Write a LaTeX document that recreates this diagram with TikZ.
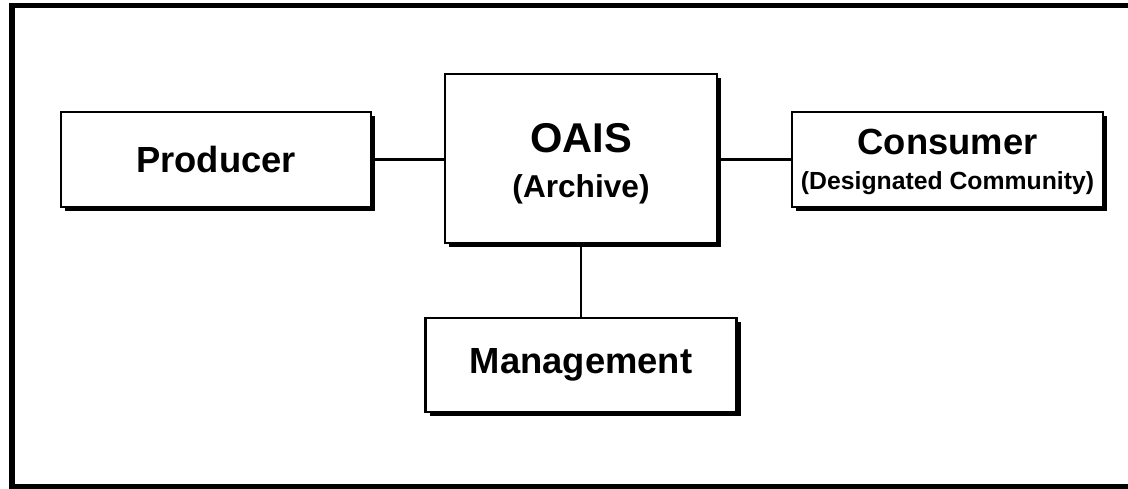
\documentclass[tikz,border=0pt]{standalone}
\usepackage{fontspec}
\setmainfont{Liberation Sans}
\usetikzlibrary{shadows}

\tikzset{
  unitbox/.style={draw=black, line width=1.2pt, fill=white, inner sep=0pt,
    align=center, font=\bfseries\fontsize{20.7}{24}\selectfont,
    drop shadow={shadow xshift=0.085cm, shadow yshift=-0.085cm, opacity=1, fill=black}},
  link/.style={line width=1.2pt}
}

\begin{document}
\begin{tikzpicture}[x=0.02cm,y=-0.02cm]
    \useasboundingbox (0,0) rectangle (1128,489);
    % outer frame (open on the right)
    \draw[line width=2.9pt] (1140,5.5) -- (12,5.5) -- (12,486.5) -- (1140,486.5);

    % Producer
    \node[unitbox, minimum width=6.2cm, minimum height=1.9cm] (producer) at (216,159.5) {Producer};

    % OAIS
    \node[unitbox, minimum width=5.44cm, minimum height=3.38cm] (oais) at (581,158.5) {};
    \node[font=\bfseries\fontsize{23.7}{24}\selectfont, inner sep=0pt, anchor=base] (oaistitle) at (581,153) {OAIS};
    \node[font=\bfseries\fontsize{18}{20}\selectfont, inner sep=0pt, anchor=base] (oaissub) at (581,198) {(Archive)};

    % Consumer
    \node[unitbox, minimum width=6.22cm, minimum height=1.9cm] (consumer) at (947.5,159.5) {};
    \node[font=\bfseries\fontsize{20.7}{24}\selectfont, inner sep=0pt, anchor=base] (consumertitle) at (947.5,155) {Consumer};
    \node[font=\bfseries\fontsize{14.1}{16}\selectfont, inner sep=0pt, anchor=base] (consumersub) at (947.5,190) {(Designated Community)};

    % Management
    \node[unitbox, minimum width=6.22cm, minimum height=1.88cm] (management) at (581,365) {Management};

    % links
    \draw[link] (producer.east) -- (producer.east -| oais.west);
    \draw[link] (consumer.west -| oais.east) -- (consumer.west);
    \draw[link] (oais.south) -- (management.north);
\end{tikzpicture}
\end{document}
